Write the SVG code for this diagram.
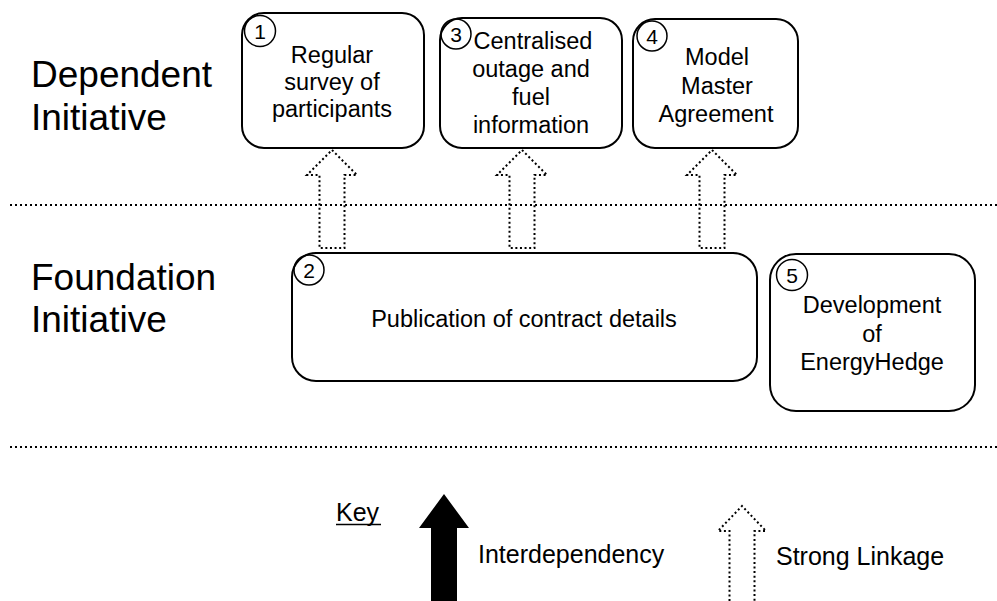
<svg xmlns="http://www.w3.org/2000/svg" width="997" height="601" viewBox="0 0 997 601">
  <style>
    .box { fill: #ffffff; stroke: #000000; stroke-width: 2; }
    .num { fill: none; stroke: #000000; stroke-width: 1.5; }
    .numtxt { font-family: "Liberation Sans", Arial, sans-serif; font-size: 21px; fill: #000000; text-anchor: middle; }
    .txt { font-family: "Liberation Sans", Arial, sans-serif; font-size: 23.5px; fill: #000000; text-anchor: middle; }
    .title { font-family: "Liberation Sans", Arial, sans-serif; font-size: 37px; fill: #000000; }
    .keytxt { font-family: "Liberation Sans", Arial, sans-serif; font-size: 25px; fill: #000000; }
    .sep { stroke: #000000; stroke-width: 2; stroke-dasharray: 2 3; fill: none; }
    .dotarrow { fill: none; stroke: #000000; stroke-width: 2; stroke-dasharray: 2 2.6; }
  </style>

  <!-- tier separators -->
  <line class="sep" x1="10" y1="205" x2="997" y2="205"/>
  <line class="sep" x1="10" y1="447" x2="997" y2="447"/>

  <!-- tier labels -->
  <text class="title" x="31" y="87">Dependent</text>
  <text class="title" x="31" y="130">Initiative</text>
  <text class="title" x="31" y="290">Foundation</text>
  <text class="title" x="31" y="332">Initiative</text>

  <!-- linkage arrows from foundation to dependent initiatives -->
  <g id="connectors">
    <polygon class="dotarrow" points="332,150 357,175 344.5,175 344.5,248 319.5,248 319.5,175 307,175"/>
    <polygon class="dotarrow" points="522,150 547,175 534.5,175 534.5,248 509.5,248 509.5,175 497,175"/>
    <polygon class="dotarrow" points="712,150 737,175 724.5,175 724.5,248 699.5,248 699.5,175 687,175"/>
  </g>

  <g id="node1">
    <rect class="box" x="242" y="13" width="182" height="135" rx="22"/>
    <circle class="num" cx="260" cy="31" r="15.5"/>
    <text class="numtxt" x="260" y="38.5">1</text>
    <text class="txt" x="332" y="63">Regular</text>
    <text class="txt" x="332" y="90">survey of</text>
    <text class="txt" x="332" y="117">participants</text>
  </g>

  <g id="node3">
    <rect class="box" x="440" y="18" width="182" height="130" rx="22"/>
    <circle class="num" cx="456" cy="34" r="15"/>
    <text class="numtxt" x="456" y="41.5">3</text>
    <text class="txt" x="533" y="49">Centralised</text>
    <text class="txt" x="531" y="77">outage and</text>
    <text class="txt" x="531" y="105">fuel</text>
    <text class="txt" x="531" y="133">information</text>
  </g>

  <g id="node4">
    <rect class="box" x="633" y="19" width="165" height="129" rx="22"/>
    <circle class="num" cx="652" cy="36" r="15"/>
    <text class="numtxt" x="652" y="43.5">4</text>
    <text class="txt" x="717" y="65">Model</text>
    <text class="txt" x="717" y="94">Master</text>
    <text class="txt" x="716" y="122">Agreement</text>
  </g>

  <g id="node2">
    <rect class="box" x="292" y="253" width="465" height="128" rx="24"/>
    <circle class="num" cx="309" cy="270" r="15"/>
    <text class="numtxt" x="309" y="277.5">2</text>
    <text class="txt" x="524" y="327">Publication of contract details</text>
  </g>

  <g id="node5">
    <rect class="box" x="770" y="254" width="205" height="157" rx="26"/>
    <circle class="num" cx="792" cy="275" r="15.5"/>
    <text class="numtxt" x="792" y="282.5">5</text>
    <text class="txt" x="872" y="313">Development</text>
    <text class="txt" x="872" y="342">of</text>
    <text class="txt" x="872" y="370">EnergyHedge</text>
  </g>

  <!-- legend -->
  <g id="key">
    <text class="keytxt" x="336" y="521">Key</text>
    <line x1="336" y1="524.5" x2="381" y2="524.5" stroke="#000000" stroke-width="1.5"/>
    <polygon points="444,494 469,528 457,528 457,601 431,601 431,528 419,528" fill="#000000"/>
    <text class="keytxt" x="478" y="563">Interdependency</text>
    <polyline class="dotarrow" points="729.5,601 729.5,531 718,531 742,506 766,531 754.5,531 754.5,601"/>
    <text class="keytxt" x="776" y="565">Strong Linkage</text>
  </g>
</svg>
